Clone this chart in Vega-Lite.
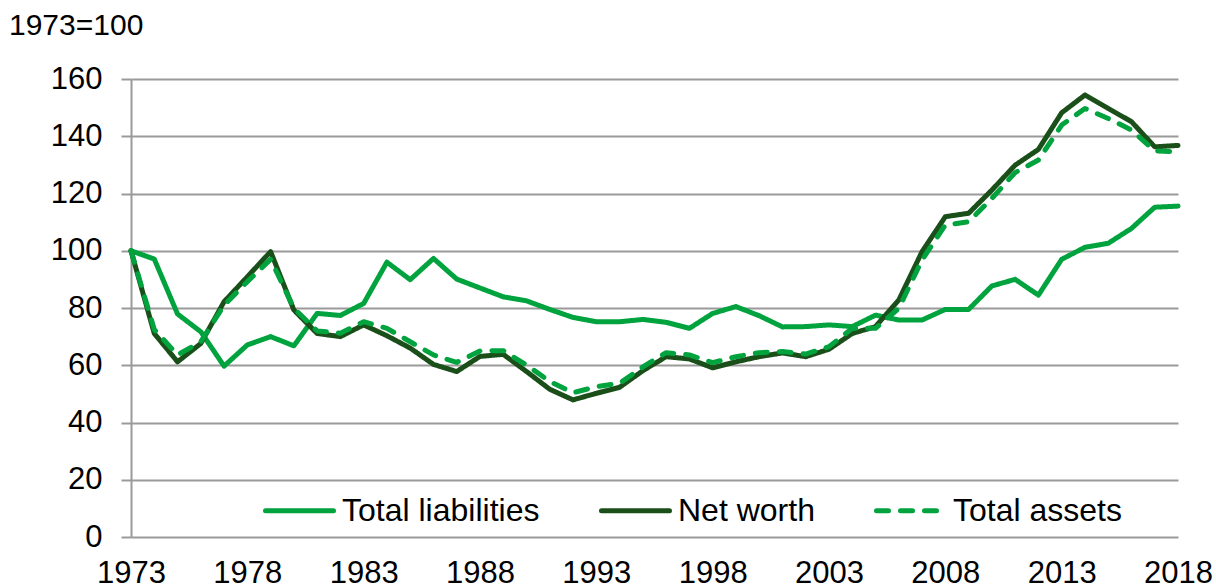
{
  "$schema": "https://vega.github.io/schema/vega-lite/v6.json",
  "width": 1047,
  "height": 458,
  "autosize": "none",
  "padding": {"left": 131, "top": 79, "right": 38, "bottom": 50},
  "background": "white",
  "title": {
    "text": "1973=100",
    "anchor": "start",
    "frame": "group",
    "orient": "top",
    "dx": -122,
    "offset": 22,
    "font": "Liberation Sans",
    "fontSize": 30,
    "fontWeight": "normal",
    "color": "black"
  },
  "data": {
    "values": [
      {"year": 1973, "Total liabilities": 100, "Net worth": 100, "Total assets": 100},
      {"year": 1974, "Total liabilities": 97.1, "Net worth": 71.1, "Total assets": 72.5},
      {"year": 1975, "Total liabilities": 77.9, "Net worth": 61.2, "Total assets": 63.6},
      {"year": 1976, "Total liabilities": 71.7, "Net worth": 67.6, "Total assets": 68.2},
      {"year": 1977, "Total liabilities": 59.7, "Net worth": 82.2, "Total assets": 81.0},
      {"year": 1978, "Total liabilities": 67.1, "Net worth": 90.9, "Total assets": 89.2},
      {"year": 1979, "Total liabilities": 70.0, "Net worth": 99.7, "Total assets": 97.0},
      {"year": 1980, "Total liabilities": 66.8, "Net worth": 79.3, "Total assets": 79.9},
      {"year": 1981, "Total liabilities": 78.1, "Net worth": 71.1, "Total assets": 72.0},
      {"year": 1982, "Total liabilities": 77.4, "Net worth": 70.0, "Total assets": 71.2},
      {"year": 1983, "Total liabilities": 81.6, "Net worth": 74.1, "Total assets": 75.2},
      {"year": 1984, "Total liabilities": 96.0, "Net worth": 70.3, "Total assets": 72.9},
      {"year": 1985, "Total liabilities": 89.9, "Net worth": 66.0, "Total assets": 68.2},
      {"year": 1986, "Total liabilities": 97.3, "Net worth": 60.3, "Total assets": 63.6},
      {"year": 1987, "Total liabilities": 90.1, "Net worth": 57.8, "Total assets": 61.0},
      {"year": 1988, "Total liabilities": 87.0, "Net worth": 63.1, "Total assets": 65.0},
      {"year": 1989, "Total liabilities": 83.9, "Net worth": 63.8, "Total assets": 65.1},
      {"year": 1990, "Total liabilities": 82.5, "Net worth": 57.8, "Total assets": 60.1},
      {"year": 1991, "Total liabilities": 79.5, "Net worth": 51.6, "Total assets": 54.3},
      {"year": 1992, "Total liabilities": 76.7, "Net worth": 47.9, "Total assets": 50.4},
      {"year": 1993, "Total liabilities": 75.2, "Net worth": 50.2, "Total assets": 52.5},
      {"year": 1994, "Total liabilities": 75.2, "Net worth": 52.3, "Total assets": 53.7},
      {"year": 1995, "Total liabilities": 76.0, "Net worth": 58.1, "Total assets": 59.4},
      {"year": 1996, "Total liabilities": 75.0, "Net worth": 63.0, "Total assets": 64.4},
      {"year": 1997, "Total liabilities": 72.9, "Net worth": 62.2, "Total assets": 63.6},
      {"year": 1998, "Total liabilities": 78.1, "Net worth": 59.1, "Total assets": 60.9},
      {"year": 1999, "Total liabilities": 80.5, "Net worth": 61.2, "Total assets": 63.0},
      {"year": 2000, "Total liabilities": 77.3, "Net worth": 63.0, "Total assets": 64.4},
      {"year": 2001, "Total liabilities": 73.4, "Net worth": 64.3, "Total assets": 64.8},
      {"year": 2002, "Total liabilities": 73.5, "Net worth": 63.0, "Total assets": 63.9},
      {"year": 2003, "Total liabilities": 74.1, "Net worth": 65.6, "Total assets": 66.5},
      {"year": 2004, "Total liabilities": 73.5, "Net worth": 71.1, "Total assets": 72.9},
      {"year": 2005, "Total liabilities": 77.5, "Net worth": 73.5, "Total assets": 72.9},
      {"year": 2006, "Total liabilities": 75.8, "Net worth": 82.8, "Total assets": 79.9},
      {"year": 2007, "Total liabilities": 75.8, "Net worth": 99.7, "Total assets": 96.8},
      {"year": 2008, "Total liabilities": 79.5, "Net worth": 111.9, "Total assets": 109.0},
      {"year": 2009, "Total liabilities": 79.5, "Net worth": 113.1, "Total assets": 110.1},
      {"year": 2010, "Total liabilities": 87.7, "Net worth": 121.2, "Total assets": 118.3},
      {"year": 2011, "Total liabilities": 90.0, "Net worth": 129.9, "Total assets": 127.3},
      {"year": 2012, "Total liabilities": 84.5, "Net worth": 135.4, "Total assets": 131.7},
      {"year": 2013, "Total liabilities": 97.0, "Net worth": 148.2, "Total assets": 143.9},
      {"year": 2014, "Total liabilities": 101.2, "Net worth": 154.4, "Total assets": 149.7},
      {"year": 2015, "Total liabilities": 102.6, "Net worth": 149.7, "Total assets": 146.2},
      {"year": 2016, "Total liabilities": 107.8, "Net worth": 145.1, "Total assets": 142.2},
      {"year": 2017, "Total liabilities": 115.2, "Net worth": 136.3, "Total assets": 134.9},
      {"year": 2018, "Total liabilities": 115.6, "Net worth": 136.8, "Total assets": 134.6}
    ]
  },
  "transform": [
    {"fold": ["Total liabilities", "Net worth", "Total assets"], "as": ["series", "value"]}
  ],
  "encoding": {
    "x": {
      "field": "year",
      "type": "quantitative",
      "scale": {"domain": [1973, 2018], "nice": false, "zero": false},
      "axis": {
        "title": null,
        "values": [1973, 1978, 1983, 1988, 1993, 1998, 2003, 2008, 2013, 2018],
        "format": "d",
        "grid": false,
        "ticks": false,
        "domain": false,
        "labelPadding": 21,
        "labelFont": "Liberation Sans",
        "labelFontSize": 31,
        "labelColor": "black",
        "labelFlush": false,
        "labelOverlap": false
      }
    },
    "y": {
      "field": "value",
      "type": "quantitative",
      "scale": {"domain": [0, 160], "nice": false},
      "axis": {
        "title": null,
        "values": [0, 20, 40, 60, 80, 100, 120, 140, 160],
        "grid": true,
        "gridColor": "#9a9a9a",
        "gridWidth": 2,
        "domain": true,
        "domainColor": "#9a9a9a",
        "domainWidth": 2,
        "ticks": true,
        "tickSize": 10,
        "tickColor": "#9a9a9a",
        "tickWidth": 2,
        "labelPadding": 19,
        "labelFont": "Liberation Sans",
        "labelFontSize": 31,
        "labelColor": "black"
      }
    },
    "color": {
      "field": "series",
      "type": "nominal",
      "scale": {
        "domain": ["Total liabilities", "Net worth", "Total assets"],
        "range": ["#00a33e", "#1b4f1a", "#00a33e"]
      },
      "legend": {
        "title": null,
        "orient": "none",
        "legendX": 132,
        "legendY": 395,
        "direction": "horizontal",
        "labelFont": "Liberation Sans",
        "labelFontSize": 32,
        "labelColor": "black",
        "labelLimit": 400,
        "labelOffset": 6,
        "columnPadding": 51,
        "padding": 0,
        "symbolType": "stroke",
        "symbolSize": 4624,
        "symbolStrokeWidth": 5,
        "encode": {"symbols": {"update": {"strokeCap": {"value": "round"}}}}
      }
    },
    "strokeDash": {
      "field": "series",
      "type": "nominal",
      "scale": {
        "domain": ["Total liabilities", "Net worth", "Total assets"],
        "range": [[1, 0], [1, 0], [12, 12]]
      },
      "legend": {
        "title": null,
        "orient": "none",
        "legendX": 132,
        "legendY": 395,
        "direction": "horizontal",
        "labelFont": "Liberation Sans",
        "labelFontSize": 32,
        "labelColor": "black",
        "labelLimit": 400,
        "labelOffset": 6,
        "columnPadding": 51,
        "padding": 0,
        "symbolType": "stroke",
        "symbolSize": 4624,
        "symbolStrokeWidth": 5,
        "encode": {"symbols": {"update": {"strokeCap": {"value": "round"}}}}
      }
    }
  },
  "layer": [
    {
      "transform": [{"filter": "datum.series === 'Total liabilities'"}],
      "mark": {"type": "line", "strokeWidth": 5, "strokeCap": "round", "strokeJoin": "round"}
    },
    {
      "transform": [{"filter": "datum.series === 'Net worth'"}],
      "mark": {"type": "line", "strokeWidth": 5, "strokeCap": "round", "strokeJoin": "round"}
    },
    {
      "transform": [{"filter": "datum.series === 'Total assets'"}],
      "mark": {"type": "line", "strokeWidth": 5, "strokeCap": "round", "strokeJoin": "round"}
    }
  ],
  "config": {
    "view": {"stroke": null},
    "font": "Liberation Sans"
  }
}
